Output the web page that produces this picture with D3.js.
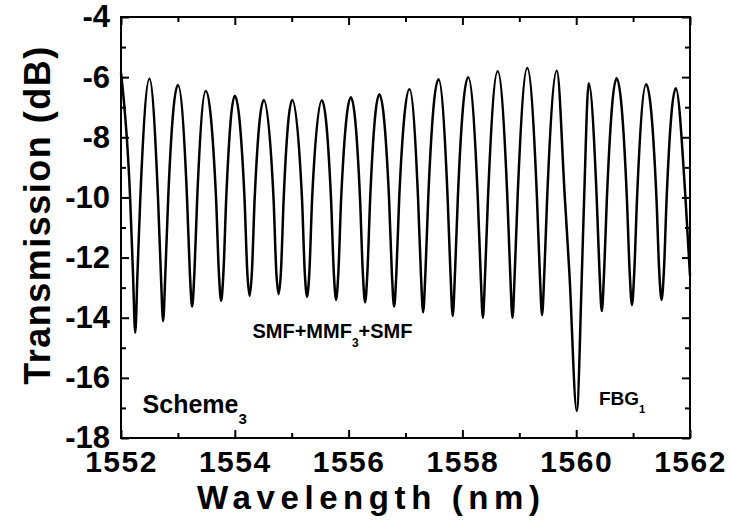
<!DOCTYPE html>
<html lang="en">

<head>
  <meta charset="UTF-8">
  <script src="https://d3js.org/d3.v7.min.js" charset="utf-8"></script>
  <title>Transmission spectrum</title>
  <style>
    body { margin: 0; background: #fff; }
    text { font-family: "Liberation Sans", Arial, sans-serif; fill: #000; }
  </style>
</head>

<body>
  <script type="text/javascript">

    // local maxima of the trace (first one is where the trace starts)
    var peakWl = [1552.00, 1552.50, 1553.00, 1553.49, 1554.00, 1554.51, 1555.01, 1555.53, 1556.04, 1556.54,
      1557.07, 1557.58, 1558.10, 1558.62, 1559.14, 1559.66, 1560.22, 1560.71, 1561.23, 1561.75];
    var peakDb = [-5.85, -6.05, -6.26, -6.46, -6.62, -6.76, -6.76, -6.77, -6.67, -6.57,
      -6.40, -6.07, -6.00, -5.80, -5.70, -5.79, -6.20, -6.04, -6.24, -6.37];

    // local minima (the deep one at 1560 nm is the FBG)
    var dipWl = [1552.25, 1552.74, 1553.25, 1553.76, 1554.26, 1554.77, 1555.27, 1555.78, 1556.29, 1556.80,
      1557.31, 1557.83, 1558.36, 1558.88, 1559.40, 1560.01, 1560.45, 1560.98, 1561.50];
    var dipDb = [-14.50, -14.11, -13.63, -13.44, -13.27, -13.21, -13.30, -13.41, -13.49, -13.63,
      -13.82, -13.94, -14.00, -14.00, -13.91, -17.10, -13.78, -13.58, -13.41];

    // points on the flanks of each dip, at about -10 dB and -12.5 dB
    var flankWl = [
      1552.16, 1552.21, 1552.29, 1552.34,
      1552.65, 1552.70, 1552.78, 1552.83,
      1553.16, 1553.21, 1553.29, 1553.34,
      1553.67, 1553.72, 1553.80, 1553.85,
      1554.17, 1554.22, 1554.30, 1554.35,
      1554.68, 1554.73, 1554.81, 1554.86,
      1555.18, 1555.23, 1555.31, 1555.36,
      1555.69, 1555.74, 1555.82, 1555.87,
      1556.20, 1556.25, 1556.33, 1556.38,
      1556.71, 1556.76, 1556.84, 1556.89,
      1557.22, 1557.27, 1557.35, 1557.40,
      1557.74, 1557.79, 1557.87, 1557.92,
      1558.27, 1558.32, 1558.40, 1558.45,
      1558.79, 1558.84, 1558.92, 1558.97,
      1559.31, 1559.36, 1559.44, 1559.49,
      1559.80, 1559.88, 1560.10, 1560.14,
      1560.36, 1560.41, 1560.49, 1560.54,
      1560.89, 1560.94, 1561.02, 1561.07,
      1561.41, 1561.46, 1561.54, 1561.59,
      1561.92, 1562.00];
    var flankDb = [];
    for (var k = 0; k < 19; k++) flankDb.push(-10, -12.5, -12.5, -10);
    flankDb.push(-10, -12.6);

    var xTicks = [1552, 1554, 1556, 1558, 1560, 1562];
    var xMinor = [1553, 1555, 1557, 1559, 1561];
    var yTicks = [-18, -16, -14, -12, -10, -8, -6, -4];
    var yMinor = [-17, -15, -13, -11, -9, -7, -5];

    var trace = [];
    peakWl.forEach(function (d, i) { trace.push([d, peakDb[i]]); });
    dipWl.forEach(function (d, i) { trace.push([d, dipDb[i]]); });
    flankWl.forEach(function (d, i) { trace.push([d, flankDb[i]]); });
    trace.sort(function (a, b) { return a[0] - b[0]; });

    var W = 731, H = 526;
    var margin = { top: 17, right: 41, bottom: 88, left: 121 };
    var w = W - margin.left - margin.right;
    var h = H - margin.top - margin.bottom;

    var svg = d3.select("body").append("svg")
      .attr("width", W)
      .attr("height", H);

    var g = svg.append("g")
      .attr("transform", "translate(" + margin.left + "," + margin.top + ")");

    var x = d3.scaleLinear().domain([1552, 1562]).range([0, w]);
    var y = d3.scaleLinear().domain([-18, -4]).range([h, 0]);

    function fmt(d) { return String(d); }

    // inward ticks on all four sides
    function axisSet(axisFn, scale, pos, major, minor, labels, pad) {
      var a = g.append("g").attr("transform", pos);
      a.call(axisFn(scale).tickValues(major).tickSize(-8).tickPadding(pad)
        .tickFormat(labels ? fmt : ""));
      var b = g.append("g").attr("transform", pos);
      b.call(axisFn(scale).tickValues(minor).tickSize(-5).tickFormat(""));
      [a, b].forEach(function (s) {
        s.select(".domain").remove();
        s.selectAll("line").attr("stroke", "#000").attr("stroke-width", 2);
      });
      return a;
    }

    var xb = axisSet(d3.axisBottom, x, "translate(0," + h + ")", xTicks, xMinor, true, 13);
    axisSet(d3.axisTop, x, "translate(0,0)", xTicks, xMinor, false, 0);
    var yl = axisSet(d3.axisLeft, y, "translate(0,0)", yTicks, yMinor, true, 11);
    axisSet(d3.axisRight, y, "translate(" + w + ",0)", yTicks, yMinor, false, 0);

    [xb, yl].forEach(function (s) {
      s.selectAll("text")
        .attr("font-family", "Liberation Sans, Arial, sans-serif")
        .attr("font-size", 31)
        .attr("font-weight", "bold")
        .attr("fill", "#000");
    });
    xb.selectAll("text").attr("font-size", 30).attr("letter-spacing", 1.5);

    g.append("rect")
      .attr("width", w)
      .attr("height", h)
      .attr("fill", "none")
      .attr("stroke", "#000")
      .attr("stroke-width", 2);

    var line = d3.line()
      .x(function (d) { return x(d[0]); })
      .y(function (d) { return y(d[1]); })
      .curve(d3.curveMonotoneX);

    g.append("path")
      .datum(trace)
      .attr("d", line)
      .attr("fill", "none")
      .attr("stroke", "#000")
      .attr("stroke-width", 2.5)
      .attr("stroke-linejoin", "round");

    // axis titles
    svg.append("text")
      .attr("x", 197)
      .attr("y", 509)
      .attr("font-size", 33)
      .attr("font-weight", "bold")
      .attr("letter-spacing", 5.6)
      .text("Wavelength (nm)");

    svg.append("text")
      .attr("transform", "translate(50,215) rotate(-90)")
      .attr("text-anchor", "middle")
      .attr("font-size", 36)
      .attr("font-weight", "bold")
      .attr("letter-spacing", 1.5)
      .text("Transmission (dB)");

    // annotations with subscripts
    function label(px, py, size, parts) {
      var t = g.append("text")
        .attr("x", x(px))
        .attr("y", y(py))
        .attr("font-size", size)
        .attr("font-weight", "bold");
      parts.forEach(function (p) {
        t.append("tspan")
          .attr("font-size", p[1] ? size * 0.6 : size)
          .attr("dy", p[1] ? size * 0.42 : (p[2] ? -size * 0.42 : 0))
          .text(p[0]);
      });
    }

    label(1554.31, -14.69, 20, [["SMF+MMF"], ["3", true], ["+SMF", false, true]]);
    label(1552.38, -17.17, 25, [["Scheme"], ["3", true]]);
    label(1560.40, -16.90, 19, [["FBG"], ["1", true]]);

  </script>
</body>

</html>
